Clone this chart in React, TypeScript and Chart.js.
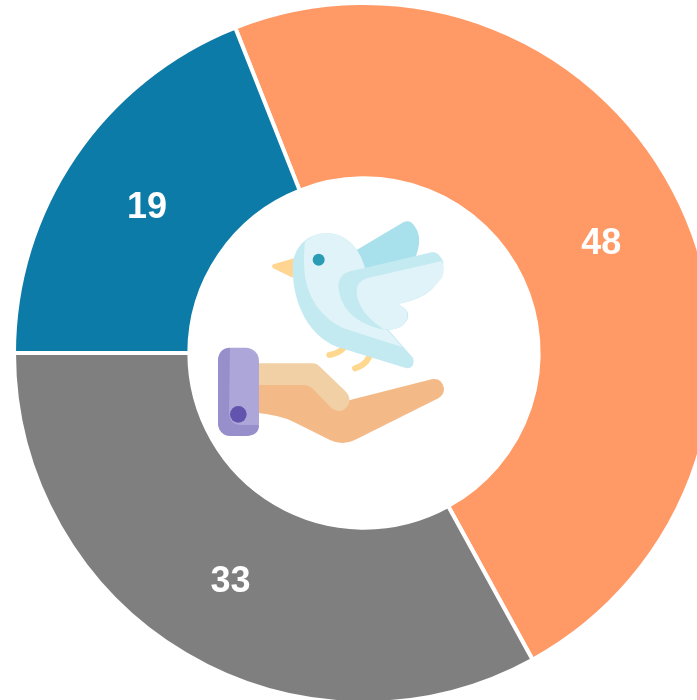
import React, { useEffect, useRef } from "react";
import { Chart, registerables } from "chart.js";

Chart.register(...registerables);

const categories = ["Orange", "Grey", "Blue"];
const values = [48, 33, 19];
const colors = ["#FF9966", "#7F7F7F", "#0D7BA7"];

const valueLabels = {
  id: "valueLabels",
  afterDatasetsDraw(chart: any) {
    const { ctx } = chart;
    const meta = chart.getDatasetMeta(0);
    ctx.save();
    ctx.font = "bold 36px 'Liberation Sans', Arial, sans-serif";
    ctx.fillStyle = "#ffffff";
    ctx.textAlign = "center";
    ctx.textBaseline = "middle";
    meta.data.forEach((arc: any, i: number) => {
      const p = arc.tooltipPosition();
      ctx.fillText(String(values[i]), p.x, p.y + 3);
    });
    ctx.restore();
  },
};

function Icon() {
  return (
    <svg
      width={697}
      height={700}
      style={{ position: "absolute", left: 0, top: 0, pointerEvents: "none" }}
    >
      <g transform="translate(200 205) scale(0.33333)">
        {/* hand */}
        <path d="M170 540 L320 540 Q330 540 340 550 L395 605 L450 585 L695 523 Q725 518 732 550 Q733 570 715 580 L475 700 Q430 725 390 705 L280 650 Q240 630 170 623 Z" fill="#F3BA87" />
        <path d="M170 475 L340 475 Q350 475 360 485 L438 560 Q455 580 445 600 Q425 630 395 610 L335 548 Q325 540 315 540 L170 540 Z" fill="#F2D0A5" />
        <rect x={54} y={428} width={123} height={265} rx={40} fill="#ADA6D8" />
        <path d="M90 428 Q54 430 54 470 L54 650 Q54 693 95 693 L135 693 Q177 693 177 660 L125 660 Q87 660 87 620 Z" fill="#978FCB" />
        <circle cx={115} cy={628} r={25} fill="#6153AE" />
        {/* legs */}
        <path d="M430 430 Q415 445 388 450" stroke="#FFD88F" strokeWidth={18} strokeLinecap="round" fill="none" />
        <path d="M508 455 Q495 482 465 490" stroke="#FFD88F" strokeWidth={18} strokeLinecap="round" fill="none" />
        {/* bird */}
        <path d="M470 135 L610 52 Q630 42 645 65 Q670 100 645 160 L490 195 Z" fill="#A8E0EC" />
        <path d="M283 160 L220 178 Q212 184 220 190 L278 218 Z" fill="#FFD591" />
        <path d="M278 190 C278 125 325 85 380 85 C435 85 478 125 495 190 L500 300 L640 460 Q645 490 620 490 L410 425 C330 395 278 300 278 190 Z" fill="#C3E9F1" />
        <path d="M315 110 C335 93 355 85 380 85 C435 85 478 125 495 190 L495 300 L608 427 L430 370 C350 330 312 260 312 170 C312 145 313 125 315 110 Z" fill="#DFF3F9" />
        <path d="M445 200 L695 142 Q715 138 730 170 Q730 270 595 297 L610 307 Q640 330 610 360 Q585 380 540 372 Q420 340 415 240 Q418 210 445 200 Z" fill="#C3E9F1" />
        <path d="M500 220 L725 168 Q738 190 725 220 Q680 280 595 297 L610 307 Q635 330 610 360 Q585 378 550 372 Q470 320 470 255 Q472 230 500 220 Z" fill="#DFF3F9" />
        <circle cx={356} cy={164} r={18} fill="#2A9DB5" />
      </g>
    </svg>
  );
}

export default function App() {
  const ref = useRef<HTMLCanvasElement>(null);

  useEffect(() => {
    const chart = new Chart(ref.current!, {
      type: "doughnut",
      data: {
        labels: categories,
        datasets: [
          {
            data: values,
            backgroundColor: colors,
            borderColor: "#ffffff",
            borderWidth: 4,
          },
        ],
      },
      options: {
        responsive: false,
        animation: false,
        rotation: -21.6,
        radius: 350,
        cutout: "49.9%",
        layout: { padding: 0 },
        plugins: {
          legend: { display: false },
          tooltip: { enabled: false },
        },
      },
      plugins: [valueLabels],
    } as any);
    return () => chart.destroy();
  }, []);

  return (
    <div
      style={{
        position: "fixed",
        left: 0,
        top: 0,
        width: 697,
        height: 700,
        overflow: "hidden",
        background: "#ffffff",
      }}
    >
      <canvas
        ref={ref}
        width={728}
        height={706}
        style={{ position: "absolute", left: 0, top: 0, width: 728, height: 706 }}
      />
      <Icon />
    </div>
  );
}
